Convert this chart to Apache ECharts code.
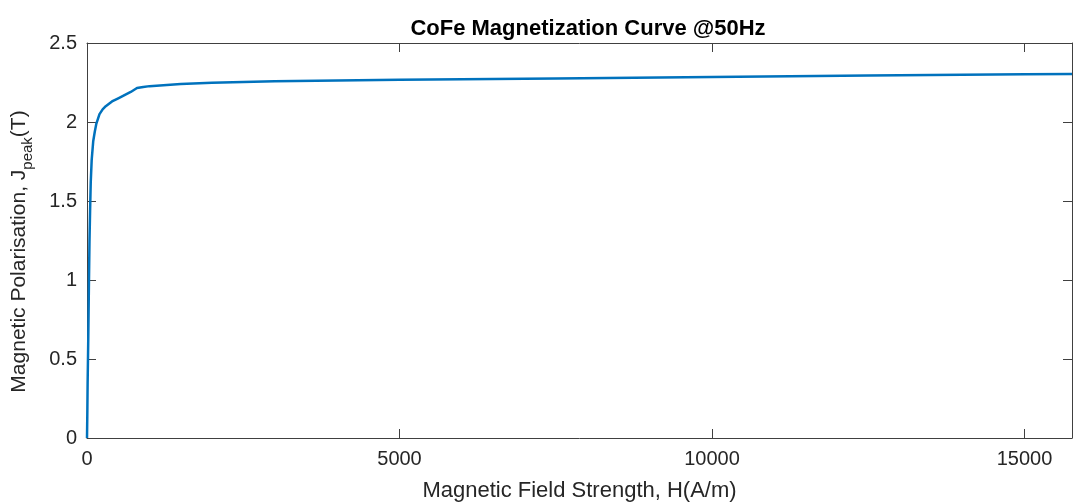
<!DOCTYPE html>
<html>
<head>
<meta charset="utf-8">
<script src="https://cdn.jsdelivr.net/npm/echarts@6/dist/echarts.min.js"></script>
<style>
  html, body { margin: 0; padding: 0; background: #fff; }
  #chart { width: 1073px; height: 502px; }
</style>
</head>
<body>
<div id="chart"></div>
<script>
// Field strength H (A/m) and peak polarisation J (T) of the CoFe curve
const fieldH = [0, 5, 10, 20, 30, 40, 50, 60, 75, 100, 125, 150, 200, 250, 300, 400, 500, 600, 700, 800,
  900, 1000, 1500, 2000, 3000, 4000, 5000, 7500, 10000, 12500, 15000, 15760];
const polarJ = [0, 0.15, 0.35, 0.62, 0.95, 1.25, 1.45, 1.62, 1.76, 1.88, 1.94, 1.99, 2.05, 2.08, 2.10, 2.13, 2.15, 2.17, 2.19, 2.215,
  2.222, 2.227, 2.24, 2.248, 2.258, 2.263, 2.267, 2.276, 2.285, 2.294, 2.302, 2.304];
const xTicks = [0, 5000, 10000, 15000];
const yTicks = ['0', '0.5', '1', '1.5', '2', '2.5'];

const axisColor = '#404040';
const font = 'Liberation Sans, Arial, sans-serif';
const points = fieldH.map((h, i) => [h, polarJ[i]]);

const chart = echarts.init(document.getElementById('chart'), null, { renderer: 'canvas' });
const tickOnly = {
  axisLine: { show: true, onZero: false, lineStyle: { color: axisColor, width: 1 } },
  axisTick: { show: true, inside: true, length: 9, lineStyle: { color: axisColor, width: 1 } },
  axisLabel: { show: false },
  splitLine: { show: false }
};

chart.setOption({
  animation: false,
  backgroundColor: '#ffffff',
  title: {
    text: 'CoFe Magnetization Curve @50Hz',
    left: 583, top: 13, textAlign: 'center',
    textStyle: { fontFamily: font, fontSize: 22, fontWeight: 'bold', color: '#000' }
  },
  grid: { left: 87, right: 1, top: 43, bottom: 64, outerBoundsMode: 'none' },
  xAxis: [{
    type: 'value', min: 0, max: 15760, interval: 5000,
    name: 'Magnetic Field Strength, H(A/m)', nameLocation: 'middle', nameGap: 42,
    nameTextStyle: { fontFamily: font, fontSize: 22, color: '#262626' },
    axisLine: { show: true, onZero: false, lineStyle: { color: axisColor, width: 1 } },
    axisTick: { show: true, inside: true, length: 9, lineStyle: { color: axisColor } },
    axisLabel: {
      fontFamily: font, fontSize: 20, color: '#262626', margin: 11,
      formatter: v => xTicks.includes(v) ? String(v) : ''
    },
    splitLine: { show: false }
  }, Object.assign({ type: 'value', position: 'top', min: 0, max: 15760, interval: 5000 }, tickOnly)],
  yAxis: [{
    type: 'value', min: 0, max: 2.5, interval: 0.5,
    name: '{m|Magnetic Polarisation, J}{s|peak}{m|(T)}', nameLocation: 'middle', nameGap: 52,
    nameTextStyle: {
      padding: [0, 22, 0, 0],
      rich: {
        m: { fontFamily: font, fontSize: 21, color: '#262626', lineHeight: 32, verticalAlign: 'middle' },
        s: { fontFamily: font, fontSize: 15, color: '#262626', lineHeight: 32, verticalAlign: 'bottom' }
      }
    },
    axisLine: { show: true, onZero: false, lineStyle: { color: axisColor, width: 1 } },
    axisTick: { show: true, inside: true, length: 9, lineStyle: { color: axisColor } },
    axisLabel: {
      fontFamily: font, fontSize: 20, color: '#262626', margin: 10,
      formatter: v => yTicks[Math.round(v / 0.5)]
    },
    splitLine: { show: false }
  }, Object.assign({ type: 'value', position: 'right', min: 0, max: 2.5, interval: 0.5 }, tickOnly)],
  series: [{
    type: 'line',
    data: points,
    showSymbol: false,
    smooth: false,
    lineStyle: { color: '#0072BD', width: 2.5 },
    clip: true
  }]
});
</script>
</body>
</html>
